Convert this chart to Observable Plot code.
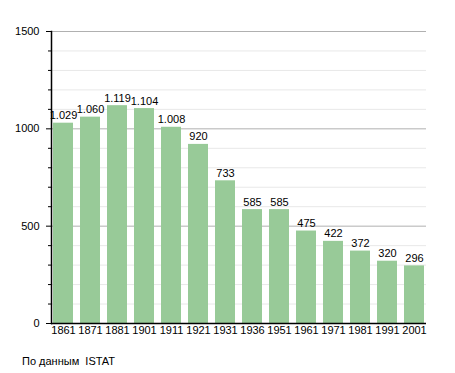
<!DOCTYPE html>
<html>
<head>
<meta charset="utf-8">
<script src="https://cdn.jsdelivr.net/npm/d3@7"></script>
<script src="https://cdn.jsdelivr.net/npm/@observablehq/plot@0.6"></script>
<style>
  body { margin: 0; background: #fff; position: relative; width: 455px; height: 373px; overflow: hidden; }
  #caption { position: absolute; left: 22px; top: 355px; font: 11px "Liberation Sans", Arial, sans-serif; color: #000; white-space: pre; }
</style>
</head>
<body>
<div id="chart"></div>
<div id="caption">По данным  ISTAT</div>
<script>
const years = ["1861","1871","1881","1901","1911","1921","1931","1936","1951","1961","1971","1981","1991","2001"];
const population = [1029,1060,1119,1104,1008,920,733,585,585,475,422,372,320,296];
const yMajorTicks = [0,500,1000,1500];
const yMinorTicks = [100,200,300,400,600,700,800,900,1100,1200,1300,1400];

const data = years.map((y, i) => ({year: y, value: population[i]}));
const fmt = v => d3.format(",")(v).replace(/,/g, ".");

const chart = Plot.plot({
  width: 455,
  height: 345,
  marginLeft: 51,
  marginRight: 29,
  marginTop: 31,
  marginBottom: 22,
  style: {fontFamily: "'Liberation Sans', Arial, sans-serif", fontSize: "11px", color: "#000", background: "#fff"},
  x: {domain: years, paddingInner: 0.256, paddingOuter: 0, label: null},
  y: {domain: [0, 1500], label: null},
  marks: [
    Plot.ruleY(yMinorTicks, {stroke: "#e8e8e8", strokeWidth: 1}),
    Plot.ruleY(yMajorTicks, {stroke: "#b0b0b0", strokeWidth: 1}),
    Plot.barY(data, {x: "year", y: "value", fill: "#98ca98"}),
    Plot.text(data, {x: "year", y: "value", text: d => fmt(d.value), lineAnchor: "bottom", dy: -4, fill: "#000"}),
    Plot.axisY({ticks: yMinorTicks, tickSize: 3, text: null, stroke: "#000"}),
    Plot.axisY({ticks: yMajorTicks, tickSize: 5, tickPadding: 7, tickFormat: d => String(d), label: null, stroke: "#000"}),
    Plot.axisX({tickSize: 0, tickPadding: 3, label: null}),
    Plot.ruleY([0], {stroke: "#000", strokeWidth: 1.5}),
    Plot.frame({anchor: "left", stroke: "#000", strokeWidth: 1.5})
  ]
});
document.getElementById("chart").appendChild(chart);
</script>
</body>
</html>
